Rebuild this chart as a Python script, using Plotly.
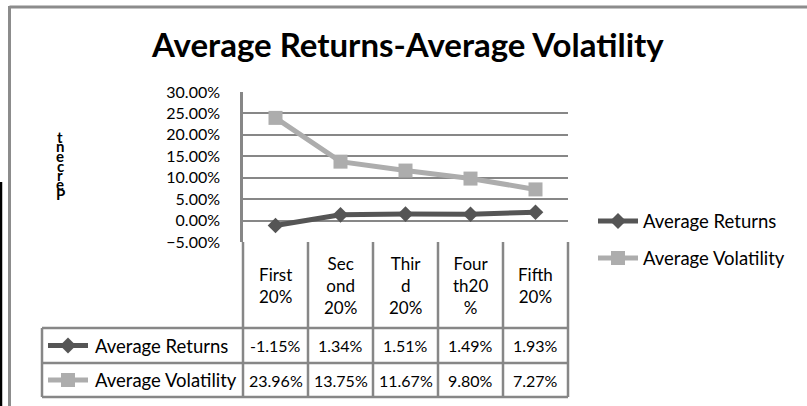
import plotly.graph_objects as go

W, H = 807, 406

categories = ["First 20%", "Second 20%", "Third 20%", "Fourth20%", "Fifth 20%"]
header_labels = ["First<br>20%", "Sec<br>ond<br>20%", "Thir<br>d<br>20%", "Four<br>th20<br>%", "Fifth<br>20%"]
avg_returns = [-0.0115, 0.0134, 0.0151, 0.0149, 0.0193]
avg_volatility = [0.2396, 0.1375, 0.1167, 0.0980, 0.0727]
series_names = ["Average Returns", "Average Volatility"]
y_title = "Percent"
chart_title = "Average Returns-Average Volatility"

C_RET = "#555555"
C_VOL = "#adadad"
GRID = "#878787"
FONT = "Lato"
FS_TXT = 18.5
FS_NUM = 16
FS_HDR = 17


def X(px):
    return px / W


def Y(py):
    return 1 - py / H


# plot area in pixels
L, R, T, B = 243, 568, 92, 242
HDR_B, ROW1_B, ROW2_B = 328, 363, 397
LBL_L = 42

fig = go.Figure()
fig.add_trace(go.Scatter(
    x=categories, y=avg_returns, name=series_names[0], mode="lines+markers",
    line=dict(color=C_RET, width=5),
    marker=dict(symbol="diamond", size=12, color=C_RET),
    showlegend=False, cliponaxis=False))
fig.add_trace(go.Scatter(
    x=categories, y=avg_volatility, name=series_names[1], mode="lines+markers",
    line=dict(color=C_VOL, width=5),
    marker=dict(symbol="square", size=14, color=C_VOL),
    showlegend=False, cliponaxis=False))

shapes = []
ann = []

# outer frame
shapes.append(dict(type="line", xref="paper", yref="paper", x0=X(9.5), x1=X(W + 2), y0=Y(7), y1=Y(7),
                   line=dict(color="#8c8c8c", width=3)))
shapes.append(dict(type="line", xref="paper", yref="paper", x0=X(9.5), x1=X(9.5), y0=Y(6), y1=Y(H + 2),
                   line=dict(color="#8c8c8c", width=3)))
shapes.append(dict(type="line", xref="paper", yref="paper", x0=X(1), x1=X(1), y0=Y(182), y1=Y(H + 2),
                   line=dict(color="#000000", width=2.5)))

# data table grid
tl = dict(color=GRID, width=2.5)
col_edges = [L + (R - L) * i / len(categories) for i in range(len(categories) + 1)]
for xe in col_edges:
    shapes.append(dict(type="line", xref="paper", yref="paper", x0=X(xe), x1=X(xe), y0=Y(B), y1=Y(ROW2_B), line=tl))
shapes.append(dict(type="line", xref="paper", yref="paper", x0=X(LBL_L), x1=X(LBL_L), y0=Y(HDR_B), y1=Y(ROW2_B), line=tl))
for yy in [HDR_B, ROW1_B, ROW2_B]:
    shapes.append(dict(type="line", xref="paper", yref="paper", x0=X(LBL_L), x1=X(R), y0=Y(yy), y1=Y(yy), line=tl))


def legend_key(cx, cy, color, symbol):
    shapes.append(dict(type="line", xref="paper", yref="paper", x0=X(cx - 20), x1=X(cx + 20), y0=Y(cy), y1=Y(cy),
                       line=dict(color=color, width=5)))
    if symbol == "diamond":
        r = 8
        path = f"M {X(cx)} {Y(cy - r)} L {X(cx + r)} {Y(cy)} L {X(cx)} {Y(cy + r)} L {X(cx - r)} {Y(cy)} Z"
    else:
        r = 7
        path = f"M {X(cx - r)} {Y(cy - r)} L {X(cx + r)} {Y(cy - r)} L {X(cx + r)} {Y(cy + r)} L {X(cx - r)} {Y(cy + r)} Z"
    shapes.append(dict(type="path", xref="paper", yref="paper", path=path, fillcolor=color, line=dict(width=0)))


# header labels
for cat, lab in zip(categories, header_labels):
    ann.append(dict(x=cat, xref="x", y=Y((B + HDR_B) / 2), yref="paper", text=lab, showarrow=False,
                    xanchor="center", yanchor="middle", font=dict(family=FONT, size=FS_HDR, color="#000")))

# value rows
rows = [(avg_returns, (HDR_B + ROW1_B) / 2, C_RET, "diamond", series_names[0]),
        (avg_volatility, (ROW1_B + ROW2_B) / 2, C_VOL, "square", series_names[1])]
for vals, cy, col, sym, name in rows:
    for cat, v in zip(categories, vals):
        ann.append(dict(x=cat, xref="x", y=Y(cy), yref="paper", text=f"{v*100:.2f}%", showarrow=False,
                        xanchor="center", yanchor="middle", font=dict(family=FONT, size=FS_NUM, color="#000")))
    legend_key(68, cy, col, sym)
    ann.append(dict(x=X(93), xref="paper", y=Y(cy), yref="paper", text=name, showarrow=False,
                    xanchor="left", yanchor="middle", font=dict(family=FONT, size=FS_TXT, color="#000")))

# right legend
for (name, col, sym, cy) in [(series_names[0], C_RET, "diamond", 221), (series_names[1], C_VOL, "square", 258)]:
    legend_key(618, cy, col, sym)
    ann.append(dict(x=X(641), xref="paper", y=Y(cy), yref="paper", text=name, showarrow=False,
                    xanchor="left", yanchor="middle", font=dict(family=FONT, size=FS_TXT, color="#000")))

# garbled stacked axis title (letters stacked bottom-up)
letters = list(y_title)
for i, ch in enumerate(letters):
    cy = 194 - i * 9.5
    ann.append(dict(x=X(60), xref="paper", y=Y(cy), yref="paper", text=f"<b>{ch}</b>", showarrow=False,
                    xanchor="center", yanchor="middle", font=dict(family=FONT, size=15, color="#000")))

# title
ann.append(dict(x=X(408), xref="paper", y=Y(44), yref="paper", text=f"<b>{chart_title}</b>", showarrow=False,
                xanchor="center", yanchor="middle", font=dict(family=FONT, size=33, color="#000")))

fig.update_layout(
    template="none",
    width=W, height=H,
    margin=dict(l=0, r=0, t=0, b=0, pad=0, autoexpand=False),
    paper_bgcolor="white", plot_bgcolor="white",
    showlegend=False,
    shapes=shapes, annotations=ann,
    xaxis=dict(domain=[X(L), X(R)], type="category", range=[-0.5, 4.5], showticklabels=False,
               showgrid=False, zeroline=False, showline=False, ticks="", automargin=False),
    yaxis=dict(domain=[Y(B), Y(T)], range=[-0.05, 0.30], dtick=0.05, tick0=0, tickformat=".2%",
               showgrid=True, gridcolor=GRID, gridwidth=2, zeroline=True, zerolinecolor=GRID, zerolinewidth=2,
               showline=True, linecolor=GRID, linewidth=2.5, ticks="", ticklabelstandoff=17, automargin=False,
               tickfont=dict(family=FONT, size=FS_NUM, color="#000")),
)

fig.write_html("out.html", config={"displayModeBar": False},
               post_script="document.body.style.margin='0px';document.body.style.overflow='hidden';")
